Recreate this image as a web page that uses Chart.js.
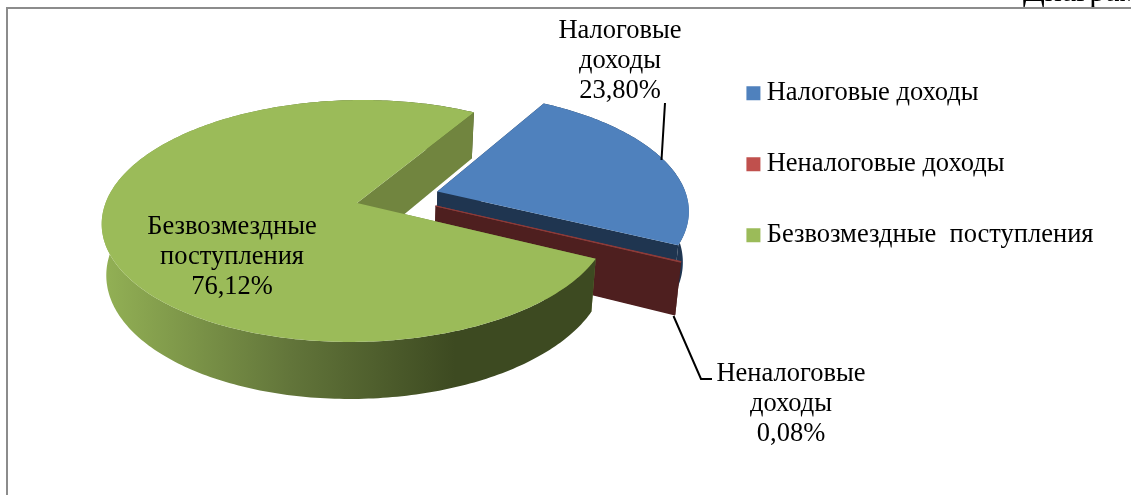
<!DOCTYPE html>
<html>
<head>
<meta charset="utf-8">
<style>
  html, body { margin: 0; padding: 0; background: #fff; overflow: hidden; }
  canvas { display: block; }
</style>
<script src="https://cdn.jsdelivr.net/npm/chart.js@4/dist/chart.umd.js"></script>
</head>
<body>
<canvas id="chart" width="1131" height="495"></canvas>
<script>
const categories = ['Налоговые доходы', 'Неналоговые доходы', 'Безвозмездные  поступления'];
const shares = [23.80, 0.08, 76.12];
const topColors = ['#4F81BD', '#C0504D', '#9BBB59'];
const cutColors = ['#1F3550', '#4E1F1F', '#71853F'];
const labelLines = [['Налоговые', 'доходы'], ['Неналоговые', 'доходы'], ['Безвозмездные', 'поступления']];
const labelCenters = [[620, 61.5], [791, 404], [232, 257]];
const fontSize = 26.5;

// perspective of the pie plane, fitted on the reference
const view = { cx: 357, cy: 203, r: 251.5, a: 118.3, c: -0.149, shear: 0.025 };
// bottom face is the top face squeezed in x and stretched in y
const depth = { sx: 0.982, vx: 357, sy: 1.048, dy: 40.6 };
const explode = 0.168;
const planeCenter = [0.161, -0.049];

function project(u, v) {
  const w = 1 + view.c * v;
  return [view.cx + view.r * (u - view.shear * v) / w, view.cy + view.a * v / w];
}
function lower(p) {
  return [depth.vx + depth.sx * (p[0] - depth.vx), depth.sy * p[1] + depth.dy];
}
function tracePath(ctx, pts) {
  ctx.beginPath();
  pts.forEach((p, i) => i ? ctx.lineTo(p[0], p[1]) : ctx.moveTo(p[0], p[1]));
  ctx.closePath();
}

function drawSlice(ctx, arc, i) {
  const start = arc.startAngle, end = arc.endAngle, mid = (start + end) / 2;
  const ox = planeCenter[0] + explode * Math.cos(mid);
  const oy = planeCenter[1] + explode * Math.sin(mid);
  const apex = project(ox, oy);
  const rim = [];
  const steps = Math.max(2, Math.ceil((end - start) * 60));
  for (let k = 0; k <= steps; k++) {
    const t = start + (end - start) * k / steps;
    rim.push(project(ox + Math.cos(t), oy + Math.sin(t)));
  }
  const first = rim[0], last = rim[rim.length - 1];

  // far cut face goes under the outer wall
  ctx.fillStyle = cutColors[i];
  tracePath(ctx, [apex, first, lower(first), lower(apex)]);
  ctx.fill();

  // outer wall
  const wall = ctx.createLinearGradient(102, 0, 690, 0);
  if (i === 2) {
    wall.addColorStop(0, '#93B155');
    wall.addColorStop(0.32, '#62753A');
    wall.addColorStop(0.6, '#3D4A21');
    wall.addColorStop(1, '#3D4A21');
  } else {
    wall.addColorStop(0, cutColors[i]);
    wall.addColorStop(0.985, cutColors[i]);
    wall.addColorStop(1, i === 0 ? '#3F6EA6' : cutColors[i]);
  }
  ctx.fillStyle = wall;
  tracePath(ctx, rim.concat(rim.slice().reverse().map(lower)));
  ctx.fill();

  // near cut face
  ctx.fillStyle = cutColors[i];
  tracePath(ctx, [apex, last, lower(last), lower(apex)]);
  ctx.fill();

  // top face
  ctx.fillStyle = topColors[i];
  tracePath(ctx, [apex].concat(rim));
  ctx.fill();
  if (i === 1) {
    ctx.strokeStyle = '#8C3B39';
    ctx.lineWidth = 1;
    ctx.stroke();
  }
}

const pie3d = {
  id: 'pie3d',
  beforeDraw(chart) {
    const ctx = chart.ctx;
    ctx.save();
    ctx.fillStyle = '#000';
    ctx.font = '32px "Liberation Serif"';
    ctx.textAlign = 'left';
    ctx.textBaseline = 'alphabetic';
    ctx.fillText('Диаграмма', 1023, 1);
    ctx.strokeStyle = '#8C8C8C';
    ctx.lineWidth = 2;
    ctx.beginPath();
    ctx.moveTo(7, 495);
    ctx.lineTo(7, 8);
    ctx.lineTo(1131, 8);
    ctx.stroke();
    ctx.restore();
  },
  beforeDatasetDraw(chart, args) {
    const ctx = chart.ctx;
    ctx.save();
    args.meta.data.forEach((arc, i) => drawSlice(ctx, arc, i));
    ctx.restore();
    return false;
  },
  afterDraw(chart) {
    const ctx = chart.ctx;
    ctx.save();
    // leader lines
    ctx.strokeStyle = '#000';
    ctx.lineWidth = 2;
    ctx.beginPath();
    ctx.moveTo(661.5, 160);
    ctx.lineTo(665, 103);
    ctx.moveTo(673.5, 316);
    ctx.lineTo(701, 379);
    ctx.lineTo(712, 379);
    ctx.stroke();
    // data labels
    ctx.fillStyle = '#000';
    ctx.font = fontSize + 'px "Liberation Serif"';
    ctx.textAlign = 'center';
    ctx.textBaseline = 'middle';
    labelLines.forEach((lines, i) => {
      const pct = shares[i].toFixed(2).replace('.', ',') + '%';
      lines.concat(pct).forEach((t, k) => {
        ctx.fillText(t, labelCenters[i][0], labelCenters[i][1] + (k - 1) * 30);
      });
    });
    ctx.restore();
  }
};

new Chart(document.getElementById('chart'), {
  type: 'pie',
  data: {
    labels: categories,
    datasets: [{
      data: shares,
      backgroundColor: topColors,
      borderWidth: 0
    }]
  },
  options: {
    responsive: false,
    animation: false,
    events: [],
    rotation: 30.2,
    layout: { padding: { top: 35.5, right: 27.5, bottom: 0, left: 0 } },
    plugins: {
      tooltip: { enabled: false },
      legend: {
        position: 'right',
        align: 'start',
        labels: {
          usePointStyle: true,
          pointStyle: 'rect',
          boxWidth: 0.01,
          boxHeight: 14,
          padding: 44.5,
          color: '#000',
          font: { family: '"Liberation Serif"', size: fontSize }
        }
      }
    }
  },
  plugins: [pie3d]
});
</script>
</body>
</html>
